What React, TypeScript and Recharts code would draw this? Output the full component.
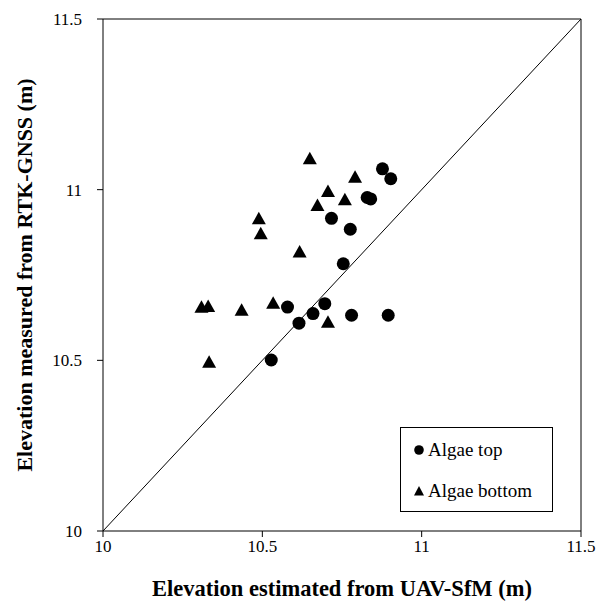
import React from 'react';
import {
  ScatterChart,
  Scatter,
  XAxis,
  YAxis,
  ReferenceLine,
  Legend,
} from 'recharts';

const topX = [10.877, 10.903, 10.829, 10.84, 10.717, 10.776, 10.754, 10.579, 10.696, 10.659, 10.615, 10.78, 10.895, 10.528];
const topY = [11.061, 11.032, 10.977, 10.973, 10.916, 10.884, 10.783, 10.656, 10.666, 10.637, 10.609, 10.632, 10.632, 10.501];

const bottomX = [10.649, 10.791, 10.706, 10.759, 10.673, 10.489, 10.495, 10.617, 10.534, 10.435, 10.309, 10.33, 10.706, 10.333];
const bottomY = [11.092, 11.038, 10.996, 10.972, 10.955, 10.916, 10.872, 10.819, 10.669, 10.648, 10.657, 10.659, 10.613, 10.496];

const ticks = [10, 10.5, 11, 11.5];
const seriesNames = ['Algae top', 'Algae bottom'];

const topData = topX.map((x, i) => ({ x, y: topY[i] }));
const bottomData = bottomX.map((x, i) => ({ x, y: bottomY[i] }));

const FONT = '"Liberation Serif", "Times New Roman", serif';

const CircleShape = (props: any) => {
  const { cx, cy } = props;
  if (cx == null || cy == null) return null;
  return <circle cx={cx} cy={cy} r={6.5} fill="#000" />;
};

const TriangleShape = (props: any) => {
  const { cx, cy } = props;
  if (cx == null || cy == null) return null;
  const pts = `${cx},${cy - 6.5} ${cx - 7},${cy + 6} ${cx + 7},${cy + 6}`;
  return <polygon points={pts} fill="#000" />;
};

const LegendBox = () => (
  <div
    style={{
      width: 153,
      height: 85,
      border: '1px solid #000',
      background: '#fff',
      fontFamily: FONT,
      fontSize: 19,
      color: '#000',
      position: 'relative',
      boxSizing: 'border-box',
      lineHeight: 'normal',
    }}
  >
    <div style={{ position: 'absolute', left: 12, top: 11, display: 'flex', alignItems: 'center' }}>
      <svg width={12} height={12} style={{ marginRight: 3 }}>
        <circle cx={6} cy={6} r={4.8} fill="#000" />
      </svg>
      <span>{seriesNames[0]}</span>
    </div>
    <div style={{ position: 'absolute', left: 12, top: 52, display: 'flex', alignItems: 'center' }}>
      <svg width={12} height={12} style={{ marginRight: 3 }}>
        <polygon points="6,1 1,10.5 11,10.5" fill="#000" />
      </svg>
      <span>{seriesNames[1]}</span>
    </div>
  </div>
);

export default function App() {
  return (
    <ScatterChart
      width={600}
      height={597}
      margin={{ top: 11, right: 27, left: 0, bottom: 0 }}
      style={{ fontFamily: FONT }}
    >
      <XAxis
        type="number"
        dataKey="x"
        domain={[10, 11.5]}
        ticks={ticks}
        allowDataOverflow
        height={74}
        tickSize={6}
        tickMargin={3}
        axisLine={{ stroke: '#000', strokeWidth: 1 }}
        tickLine={{ stroke: '#000', strokeWidth: 1 }}
        tick={{ fill: '#000', fontSize: 17, fontFamily: FONT }}
        label={{
          value: 'Elevation estimated from UAV-SfM (m)',
          position: 'insideBottom',
          offset: 9,
          style: { fill: '#000', fontSize: 22.5, fontWeight: 'bold', fontFamily: FONT },
        }}
      />
      <YAxis
        type="number"
        dataKey="y"
        domain={[10, 11.5]}
        ticks={ticks}
        allowDataOverflow
        width={95}
        tickSize={6}
        tickMargin={15}
        axisLine={{ stroke: '#000', strokeWidth: 1 }}
        tickLine={{ stroke: '#000', strokeWidth: 1 }}
        tick={{ fill: '#000', fontSize: 17, fontFamily: FONT }}
        label={{
          value: 'Elevation measured from RTK-GNSS (m)',
          angle: -90,
          position: 'insideLeft',
          offset: 16,
          style: { fill: '#000', fontSize: 22, fontWeight: 'bold', fontFamily: FONT, textAnchor: 'middle' },
        }}
      />
      <ReferenceLine y={11.5} stroke="#000" strokeWidth={1} />
      <ReferenceLine x={11.5} stroke="#000" strokeWidth={1} />
      <ReferenceLine
        segment={[
          { x: 10, y: 10 },
          { x: 11.5, y: 11.5 },
        ]}
        stroke="#000"
        strokeWidth={1}
      />
      <Scatter name={seriesNames[0]} data={topData} fill="#000" shape={<CircleShape />} isAnimationActive={false} />
      <Scatter name={seriesNames[1]} data={bottomData} fill="#000" shape={<TriangleShape />} isAnimationActive={false} />
      <Legend
        layout="horizontal"
        verticalAlign="middle"
        align="center"
        content={<LegendBox />}
        wrapperStyle={{ position: 'absolute', left: 392, top: 419, width: 153, height: 85 }}
      />
    </ScatterChart>
  );
}
